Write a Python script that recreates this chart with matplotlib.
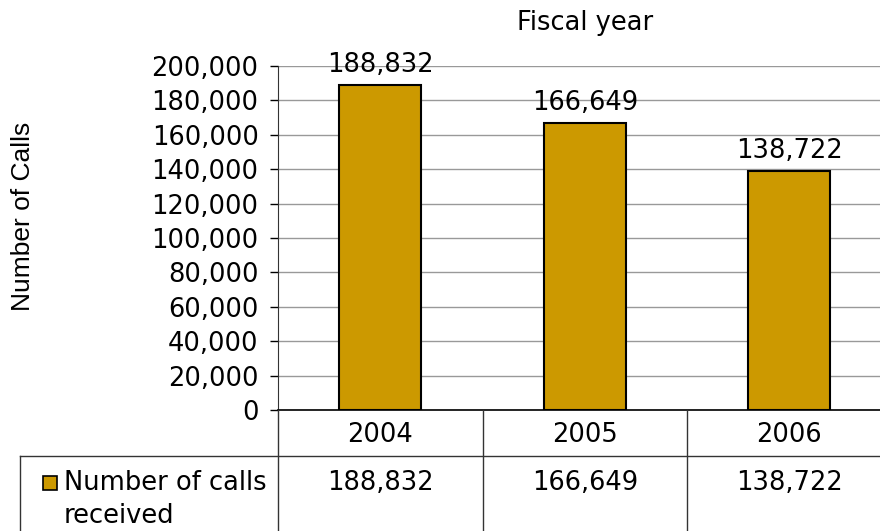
import matplotlib
matplotlib.use("Agg")
import matplotlib.pyplot as plt
from matplotlib.patches import Rectangle
from matplotlib.lines import Line2D
import matplotlib.transforms as mtransforms

years = ["2004", "2005", "2006"]
calls = [188832, 166649, 138722]
series_name = "Number of calls\nreceived"
title = "Fiscal year"
ylabel = "Number of Calls"

BAR = "#CC9900"
FS = 18.5
plt.rcParams['font.family'] = ['DejaVu Sans']

W, H = 880, 531
fig = plt.figure(figsize=(W / 100, H / 100), dpi=100)
left, right, bottom, top = 278, 891.5, 410, 66
ax = fig.add_axes([left / W, (H - bottom) / H, (right - left) / W, (bottom - top) / H])

x = list(range(len(years)))
ax.bar(x, calls, width=0.4, color=BAR, edgecolor="black", linewidth=1.5, zorder=3)
for xi, v in zip(x, calls):
    ax.annotate(f"{v:,}", (xi, v), xytext=(0, 5), textcoords="offset points",
                ha="center", va="bottom", fontsize=FS, zorder=4)

ax.set_xlim(-0.5, len(years) - 0.5)
ax.set_ylim(0, 200000)
ax.set_yticks(range(0, 200001, 20000))
ax.set_yticklabels([f"{t:,}" for t in range(0, 200001, 20000)], fontsize=FS)
ax.tick_params(axis="y", length=6, width=1, pad=8)
ax.set_xticks(x)
ax.set_xticklabels(years, fontsize=FS)
ax.tick_params(axis="x", length=0, pad=9)
ax.grid(axis="y", color="#999999", linewidth=1, zorder=0)
for s in ["top", "right"]:
    ax.spines[s].set_visible(False)
ax.spines["left"].set_color("#333333")
ax.spines["bottom"].set_color("black")
ax.spines["bottom"].set_linewidth(1.2)

ax.set_title(title, fontsize=FS, pad=26)
fig.text(23 / W, 1 - 216 / H, ylabel, rotation=90, ha="center", va="center", fontsize=19,
         family=['Liberation Sans', 'DejaVu Sans'])

# data table lines
trans = mtransforms.blended_transform_factory(ax.transData, fig.transFigure)
for xs in [-0.5, 0.5, 1.5]:
    fig.add_artist(Line2D([xs, xs], [(H - 410) / H, 0], transform=trans, color="#333333", lw=1))
fig.add_artist(Line2D([20 / W, 1], [1 - 456 / H, 1 - 456 / H], transform=fig.transFigure, color="#333333", lw=1))
fig.add_artist(Line2D([20 / W, 20 / W], [1 - 456 / H, 0], transform=fig.transFigure, color="#333333", lw=1))

for xi, v in zip(x, calls):
    fig.text(xi, 1 - 483 / H, f"{v:,}", transform=trans, ha="center", va="center", fontsize=FS)

fig.add_artist(Rectangle((43 / W, 1 - 490 / H), 14 / W, 14 / H, transform=fig.transFigure,
                         facecolor=BAR, edgecolor="black", lw=1.2))
fig.text(64 / W, 1 - 470 / H, series_name, ha="left", va="top", fontsize=FS, linespacing=1.33)

fig.savefig("out.png", dpi=100)
